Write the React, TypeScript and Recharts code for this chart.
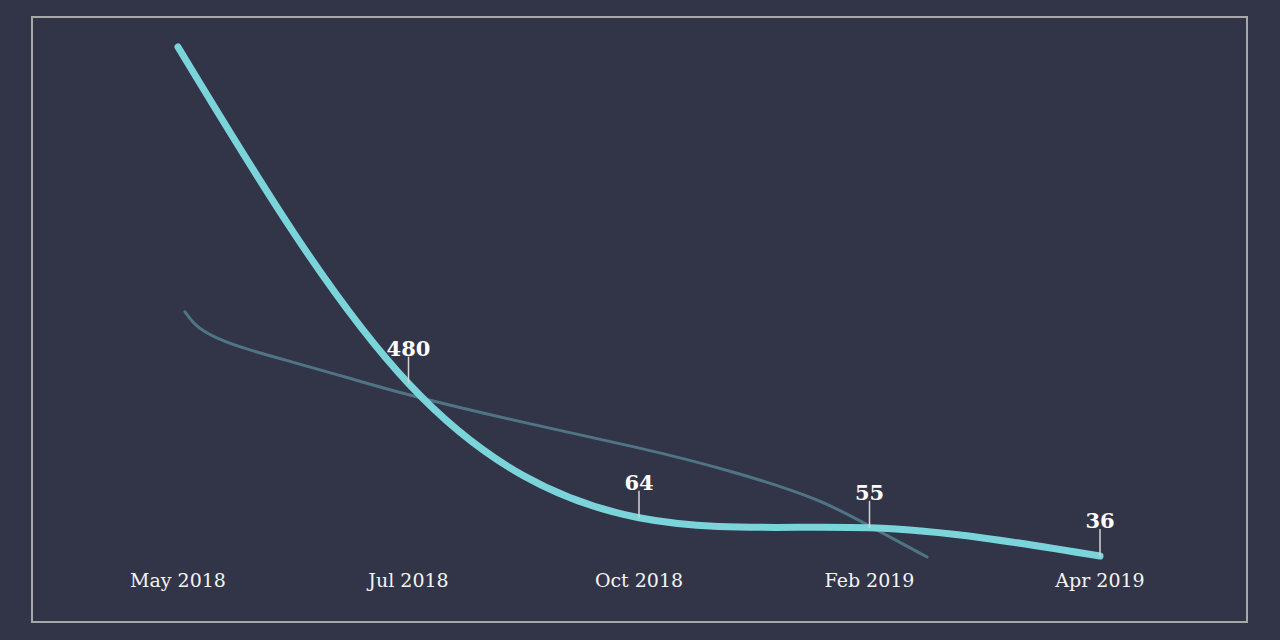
import { LabelList, Line, LineChart, XAxis, YAxis } from 'recharts'

const months = ['May 2018', 'Jul 2018', 'Oct 2018', 'Feb 2019', 'Apr 2019']
const mainValues = [75000, 480, 64, 55, 36]
const pointLabels = ['', '480', '64', '55', '36']

const trendX = [0.03, 0.07, 0.14, 0.27, 0.49, 0.75, 1.0, 1.53, 2.0, 2.4, 2.79, 3.0, 3.25]
const trendValues = [1410, 1160, 985, 823, 667, 517, 401, 260, 184, 130, 84.5, 56.4, 35.5]

const BG = '#323447'
const CYAN = '#7ad4da'
const TREND = '#4f7585'

const mainData = mainValues.map((v, i) => ({ x: i, v }))
const trendData = trendValues.map((v, i) => ({ x: trendX[i], v }))

function PointLabel(props: any) {
  const { x, y, index, value } = props
  const text = index != null ? pointLabels[index] : String(value)
  if (!text || x == null || y == null) return null
  return (
    <g>
      <line x1={x} x2={x} y1={y - 27} y2={y} stroke="#d4d4d4" strokeWidth={1.5} />
      <text
        x={x}
        y={y - 28}
        textAnchor="middle"
        fill="#ffffff"
        fontSize={21}
        fontWeight="bold"
        fontFamily="DejaVu Serif"
      >
        {text}
      </text>
    </g>
  )
}

export default function App() {
  return (
    <div style={{ position: 'absolute', left: 0, top: 0, width: 1280, height: 640, background: BG }}>
      <div
        style={{
          position: 'absolute',
          left: 31,
          top: 16,
          width: 1217,
          height: 607,
          boxSizing: 'border-box',
          border: '2px solid #a8a8a8',
        }}
      />
      <div style={{ position: 'absolute', left: 0, top: 0 }}>
        <LineChart width={1280} height={640} margin={{ top: 47, right: 180, bottom: 53, left: 178 }}>
          <XAxis
            type="number"
            dataKey="x"
            domain={[0, 4]}
            ticks={[0, 1, 2, 3, 4]}
            interval={0}
            tickFormatter={(v: number) => months[v]}
            axisLine={false}
            tickLine={false}
            tickMargin={11}
            height={30}
            tick={{ fill: '#f4f4f4', fontSize: 19, fontFamily: 'DejaVu Serif' }}
          />
          <YAxis hide type="number" scale="log" domain={[36, 75000]} />
          <Line
            data={trendData}
            dataKey="v"
            type="basis"
            stroke={TREND}
            strokeWidth={3}
            strokeLinecap="round"
            dot={false}
            activeDot={false}
            isAnimationActive={false}
          />
          <Line
            data={mainData}
            dataKey="v"
            type="natural"
            stroke={CYAN}
            strokeWidth={7}
            strokeLinecap="round"
            dot={false}
            activeDot={false}
            isAnimationActive={false}
          >
            <LabelList dataKey="v" content={<PointLabel />} />
          </Line>
        </LineChart>
      </div>
    </div>
  )
}
